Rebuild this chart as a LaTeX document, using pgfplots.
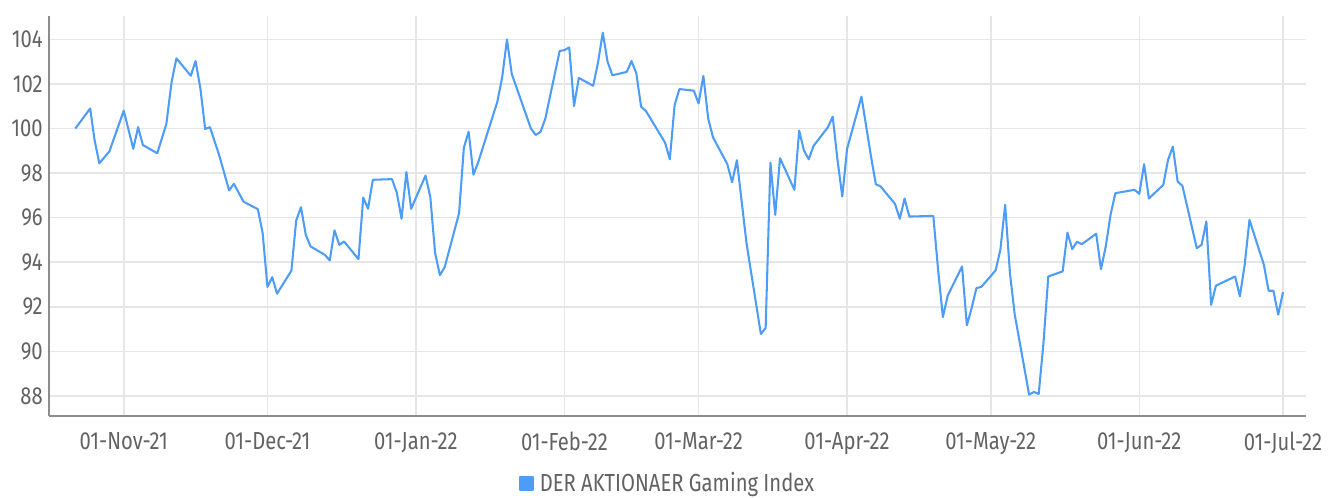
\documentclass[border=0pt]{standalone}
\usepackage{fontspec}
\setmainfont[FakeStretch=0.82]{Fira Sans}
\usepackage{pgfplots}
\pgfplotsset{compat=1.18}
\definecolor{linec}{HTML}{4D9CF7}
\definecolor{gridc}{HTML}{E6E6E6}
\definecolor{txtc}{HTML}{626262}
\definecolor{axc}{HTML}{8C8C8C}
\pgfplotstableread{
d v
-10.1 100.0
-7.0 100.9
-6.1 99.5
-5.1 98.44
-3.0 98.97
0 100.8
2 99.09
3 100.06
4 99.26
7 98.89
8.9 100.21
10 102.10
11 103.15
14 102.37
15 103.03
16 101.80
17 99.98
18 100.06
20 98.75
22 97.22
23 97.52
25 96.72
28 96.38
29 95.31
30 92.89
31 93.33
32 92.59
35 93.62
36 95.87
37 96.47
38 95.23
39 94.71
42 94.33
43 94.08
44 95.43
45 94.78
46 94.93
49 94.14
50 96.90
51 96.40
52 97.70
56 97.73
57 97.13
58 95.95
59 98.05
60 96.40
63 97.89
64 96.92
65 94.41
66 93.42
67 93.78
70 96.20
71 99.14
72 99.86
73 97.93
74 98.49
78 101.21
79 102.30
80 104.0
81 102.45
85 100.0
86 99.71
87 99.85
88 100.44
91 103.48
92 103.52
93 103.64
94 101.01
95 102.27
98 101.92
99 102.95
100 104.3
101 103.0
102 102.39
105 102.54
106 103.03
107 102.48
108 100.98
109 100.79
113 99.37
114 98.62
115 101.06
116 101.77
119 101.70
120 101.13
121 102.36
122 100.46
123 99.61
126 98.40
127 97.59
128 98.58
130 94.86
133 90.78
134 91.05
135 98.47
136 96.13
137 98.67
140 97.25
141 99.91
142 99.01
143 98.62
144 99.22
147 100.06
148 100.53
149 98.59
150 96.95
151 99.09
154 101.43
156 98.74
157 97.50
158 97.40
161 96.62
162 95.95
163 96.86
164 96.05
169 96.08
170 93.66
171 91.54
172 92.50
175 93.81
176 91.17
177 91.94
178 92.84
179 92.89
182 93.63
183 94.56
184 96.58
185 93.5
186 91.65
189 88.06
190 88.18
191 88.09
192 90.38
193 93.36
196 93.59
197 95.33
198 94.59
199 94.92
200 94.81
203 95.28
204 93.69
205 94.71
206 96.13
207 97.10
211 97.25
212 97.07
213 98.40
214 96.86
217 97.47
218 98.59
219 99.19
220 97.62
221 97.43
224 94.63
225 94.78
226 95.83
227 92.09
228 92.95
232 93.36
233 92.47
234 93.89
235 95.9
238 93.89
239 92.72
240 92.72
241 91.65
242 92.66
}\idx
\begin{document}
\begin{tikzpicture}
\begin{axis}[
  at={(0,0)}, anchor=south west,
  scale only axis, width=942.75pt, height=300pt,
  xmin=-15.6, xmax=246.8, ymin=87.1, ymax=105.05,
  axis x line=bottom, axis y line=left,
  axis line style={-, draw=axc, line width=1.2pt},
  major tick length=0pt,
  grid=major,
  grid style={draw=gridc, line width=1.2pt},
  xtick={0,30,61,92,120,151,181,212,242},
  xticklabels={01-Nov-21,01-Dec-21,01-Jan-22,01-Feb-22,01-Mar-22,01-Apr-22,01-May-22,01-Jun-22,01-Jul-22},
  ytick={88,90,...,104},
  /pgf/number format/assume math mode=true,
  tick label style={font=\fontsize{18.5}{20}\selectfont, text=txtc},
  yticklabel style={inner sep=0pt, anchor=east, xshift=-4.5pt},
  xticklabel style={inner sep=0pt, anchor=north, yshift=-12pt},
  legend style={at={(0.4925,-0.168)}, anchor=center, draw=none, fill=none,
    font=\fontsize{18.5}{20}\selectfont, text=txtc, inner sep=0pt,
    /tikz/every even column/.append style={column sep=0pt}},
  legend image code/.code={\fill[linec] (0pt,-4.9pt) rectangle (9.75pt,4.9pt);},
]
\addplot[linec, line width=1.55pt, line join=round] table[x=d, y=v] {\idx};
\addlegendentry{\hspace{2pt}DER AKTIONAER Gaming Index}
\end{axis}
\pgfresetboundingbox
\path (-36.75pt,-60.75pt) rectangle (960pt,312pt);
\end{tikzpicture}
\end{document}
